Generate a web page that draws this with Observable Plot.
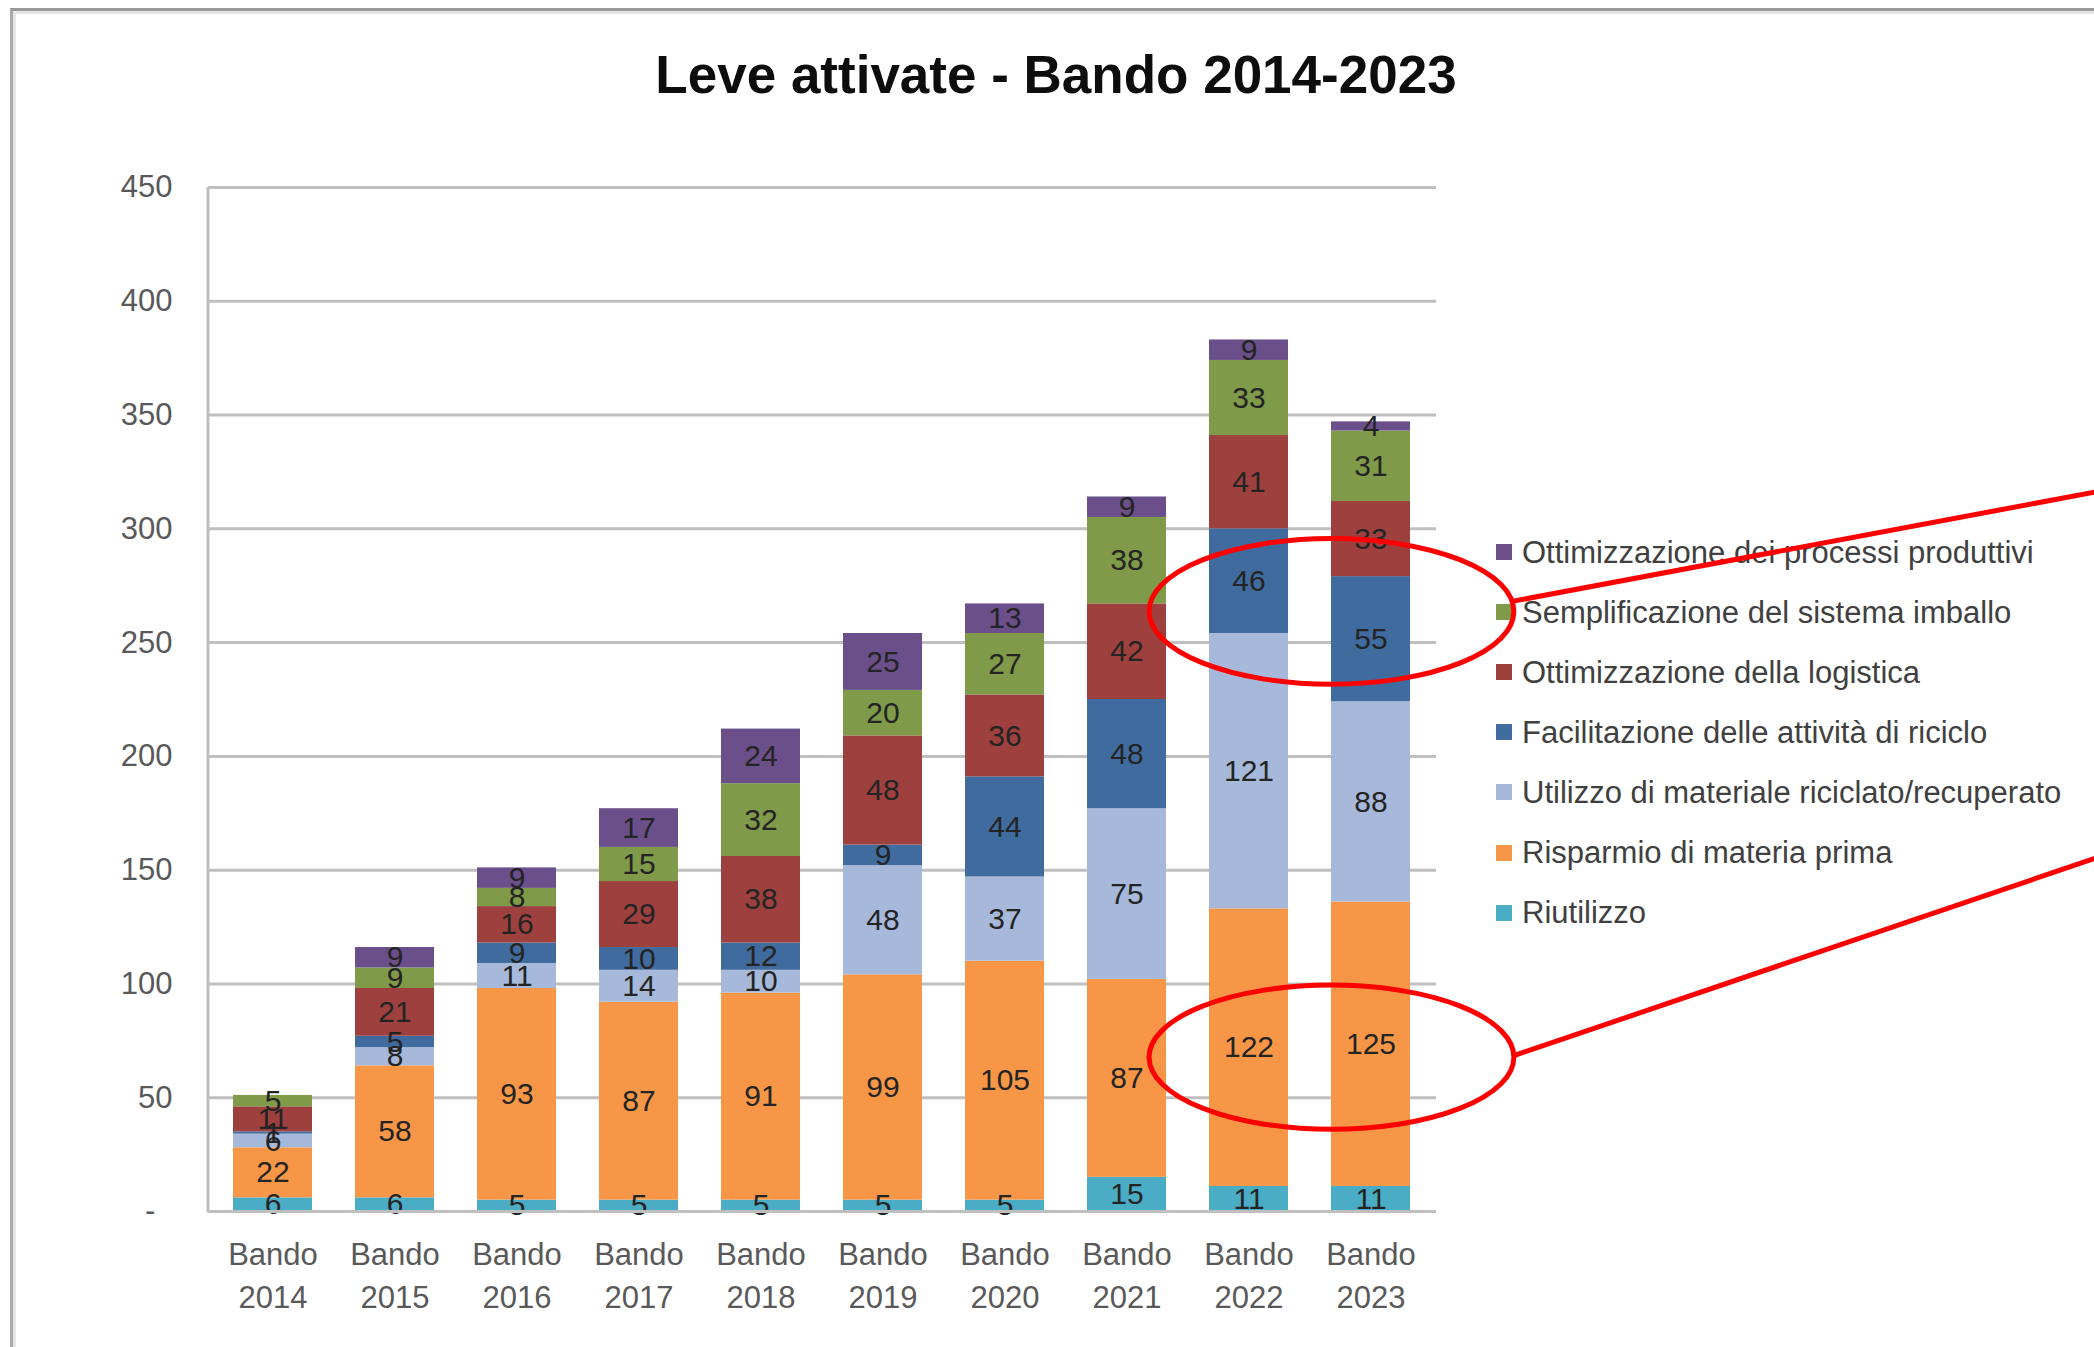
<!DOCTYPE html>
<html>
<head>
<meta charset="utf-8">
<script src="https://cdn.jsdelivr.net/npm/d3@7"></script>
<script src="https://cdn.jsdelivr.net/npm/@observablehq/plot@0.6"></script>
<style>
  html, body { margin: 0; padding: 0; background: #fff; overflow: hidden; }
  #root { position: relative; width: 2094px; height: 1347px; overflow: hidden; font-family: "Liberation Sans", Arial, sans-serif; }
  #frame { position: absolute; left: 10px; top: 8px; width: 2200px; height: 1400px;
           border-top: 3px solid #999; border-left: 3px solid #aaa; box-shadow: inset 3px 3px 0 #e4e4e4; }
  #title { position: absolute; top: 48px; left: 1056px; transform: translateX(-50%); white-space: nowrap;
           font-size: 53px; line-height: 53px; font-weight: bold; color: #0d0d0d; }
  #legend { position: absolute; left: 1496px; top: 0; z-index: 0; }
  .item { position: absolute; left: 0; height: 60px; display: flex; align-items: center; white-space: nowrap; }
  .sw { width: 16px; height: 16px; margin-right: 10px; flex: none; }
  .lab { font-size: 31px; line-height: 31px; color: #404040; }
  #chart { position: absolute; left: 0; top: 0; z-index: 1; }
</style>
</head>
<body>
<div id="root">
  <div id="frame"></div>
  <div id="title">Leve attivate - Bando 2014-2023</div>
  <div id="legend"></div>
  <div id="chart"></div>
</div>
<script>
// ---- data ----
const categories = ["Bando 2014","Bando 2015","Bando 2016","Bando 2017","Bando 2018","Bando 2019","Bando 2020","Bando 2021","Bando 2022","Bando 2023"];
const seriesNames = [
  "Riutilizzo",
  "Risparmio di materia prima",
  "Utilizzo di materiale riciclato/recuperato",
  "Facilitazione delle attività di riciclo",
  "Ottimizzazione della logistica",
  "Semplificazione del sistema imballo",
  "Ottimizzazione dei processi produttivi"
];
const riutilizzo      = [6, 6, 5, 5, 5, 5, 5, 15, 11, 11];
const risparmio       = [22, 58, 93, 87, 91, 99, 105, 87, 122, 125];
const utilizzo        = [6, 8, 11, 14, 10, 48, 37, 75, 121, 88];
const facilitazione   = [1, 5, 9, 10, 12, 9, 44, 48, 46, 55];
const logistica       = [11, 21, 16, 29, 38, 48, 36, 42, 41, 33];
const semplificazione = [5, 9, 8, 15, 32, 20, 27, 38, 33, 31];
const processi        = [0, 9, 9, 17, 24, 25, 13, 9, 9, 4];
const seriesColors = ["#4BACC6", "#F79646", "#A7B9DA", "#406B9F", "#9E413E", "#7F9A48", "#6A4F8B"];
const yTicks = [0, 50, 100, 150, 200, 250, 300, 350, 400, 450];

// annotation (hand-drawn red ellipses and pointer lines), in data units:
// x in band-index units (0 = first category), y in chart values
const annotEllipses = [
  {cx: 8.68, cy: 263.5, rx: 1.495, ry: 32},
  {cx: 8.68, cy: 67.6, rx: 1.495, ry: 31.7}
];
const annotLines = [
  {x1: 10.17, y1: 268, x2: 15.72, y2: 323.8},
  {x1: 10.17, y1: 68.2, x2: 15.72, y2: 169.2}
];

// ---- build table ----
const seriesValues = [riutilizzo, risparmio, utilizzo, facilitazione, logistica, semplificazione, processi];
const data = [];
seriesNames.forEach((s, si) => {
  categories.forEach((c, ci) => data.push({cat: c, series: s, value: seriesValues[si][ci]}));
});

// ---- legend (top to bottom = reverse stacking order) ----
const legend = document.getElementById("legend");
seriesNames.slice().reverse().forEach((s, i) => {
  const idx = seriesNames.indexOf(s);
  const row = document.createElement("div");
  row.className = "item";
  row.style.top = (522 + i * 60.1) + "px";
  row.innerHTML = `<span class="sw" style="background:${seriesColors[idx]}"></span><span class="lab">${s}</span>`;
  legend.appendChild(row);
});

const NS = "http://www.w3.org/2000/svg";
function axisLineMark(index, scales, values, dimensions) {
  const sy = scales.y;
  const g = document.createElementNS(NS, "g");
  const ax = document.createElementNS(NS, "line");
  ax.setAttribute("x1", dimensions.marginLeft); ax.setAttribute("x2", dimensions.marginLeft);
  ax.setAttribute("y1", sy(yTicks[0]) + 1.5); ax.setAttribute("y2", sy(yTicks[yTicks.length - 1]));
  ax.setAttribute("stroke", "#BFBFBF"); ax.setAttribute("stroke-width", 3);
  g.appendChild(ax);
  return g;
}
function redMark(index, scales) {
  const sx = scales.x, sy = scales.y;
  const bw = typeof sx.bandwidth === "function" ? sx.bandwidth() : 0;
  const c0 = sx(categories[0]) + bw / 2;
  const step = sx(categories[1]) - sx(categories[0]);
  const px = i => c0 + i * step;
  const g = document.createElementNS(NS, "g");
  g.setAttribute("fill", "none"); g.setAttribute("stroke", "#FF0000"); g.setAttribute("stroke-width", 5);
  for (const e of annotEllipses) {
    const el = document.createElementNS(NS, "ellipse");
    el.setAttribute("cx", px(e.cx)); el.setAttribute("cy", sy(e.cy));
    el.setAttribute("rx", e.rx * step); el.setAttribute("ry", Math.abs(sy(e.cy + e.ry) - sy(e.cy)));
    g.appendChild(el);
  }
  for (const l of annotLines) {
    const ln = document.createElementNS(NS, "line");
    ln.setAttribute("x1", px(l.x1)); ln.setAttribute("y1", sy(l.y1));
    ln.setAttribute("x2", px(l.x2)); ln.setAttribute("y2", sy(l.y2));
    g.appendChild(ln);
  }
  return g;
}

const chart = Plot.plot({
  width: 2094,
  height: 1347,
  marginTop: 187,
  marginBottom: 136,
  marginLeft: 208,
  marginRight: 658,
  style: {background: "transparent", fontFamily: "'Liberation Sans', Arial, sans-serif", fontSize: "31px", color: "#595959", overflow: "hidden"},
  x: {domain: categories, paddingInner: 0.35, paddingOuter: 0.175, label: null},
  y: {domain: [0, 450], label: null},
  color: {domain: seriesNames, range: seriesColors},
  marks: [
    Plot.gridY(yTicks.filter(t => t > 0), {stroke: "#BFBFBF", strokeWidth: 3, strokeOpacity: 1}),
    Plot.barY(data, {x: "cat", y: "value", fill: "series", order: seriesNames}),
    Plot.text(data, Plot.stackY({x: "cat", y: "value", z: "series", order: seriesNames, text: d => d.value > 0 ? String(d.value) : "", fill: "#242424", fontSize: 30})),
    Plot.ruleY([0], {stroke: "#BFBFBF", strokeWidth: 3}),
    axisLineMark,
    Plot.axisX({tickSize: 0, tickPadding: 23, fontSize: 31, lineHeight: 1.38, label: null, tickFormat: d => d.replace(" ", "\n")}),
    Plot.axisY(yTicks, {tickSize: 0, tickPadding: 36, fontSize: 31, label: null, tickFormat: d => d === 0 ? "-\u00a0\u00a0" : String(d)}),
    redMark
  ]
});
document.getElementById("chart").appendChild(chart);
</script>
</body>
</html>
